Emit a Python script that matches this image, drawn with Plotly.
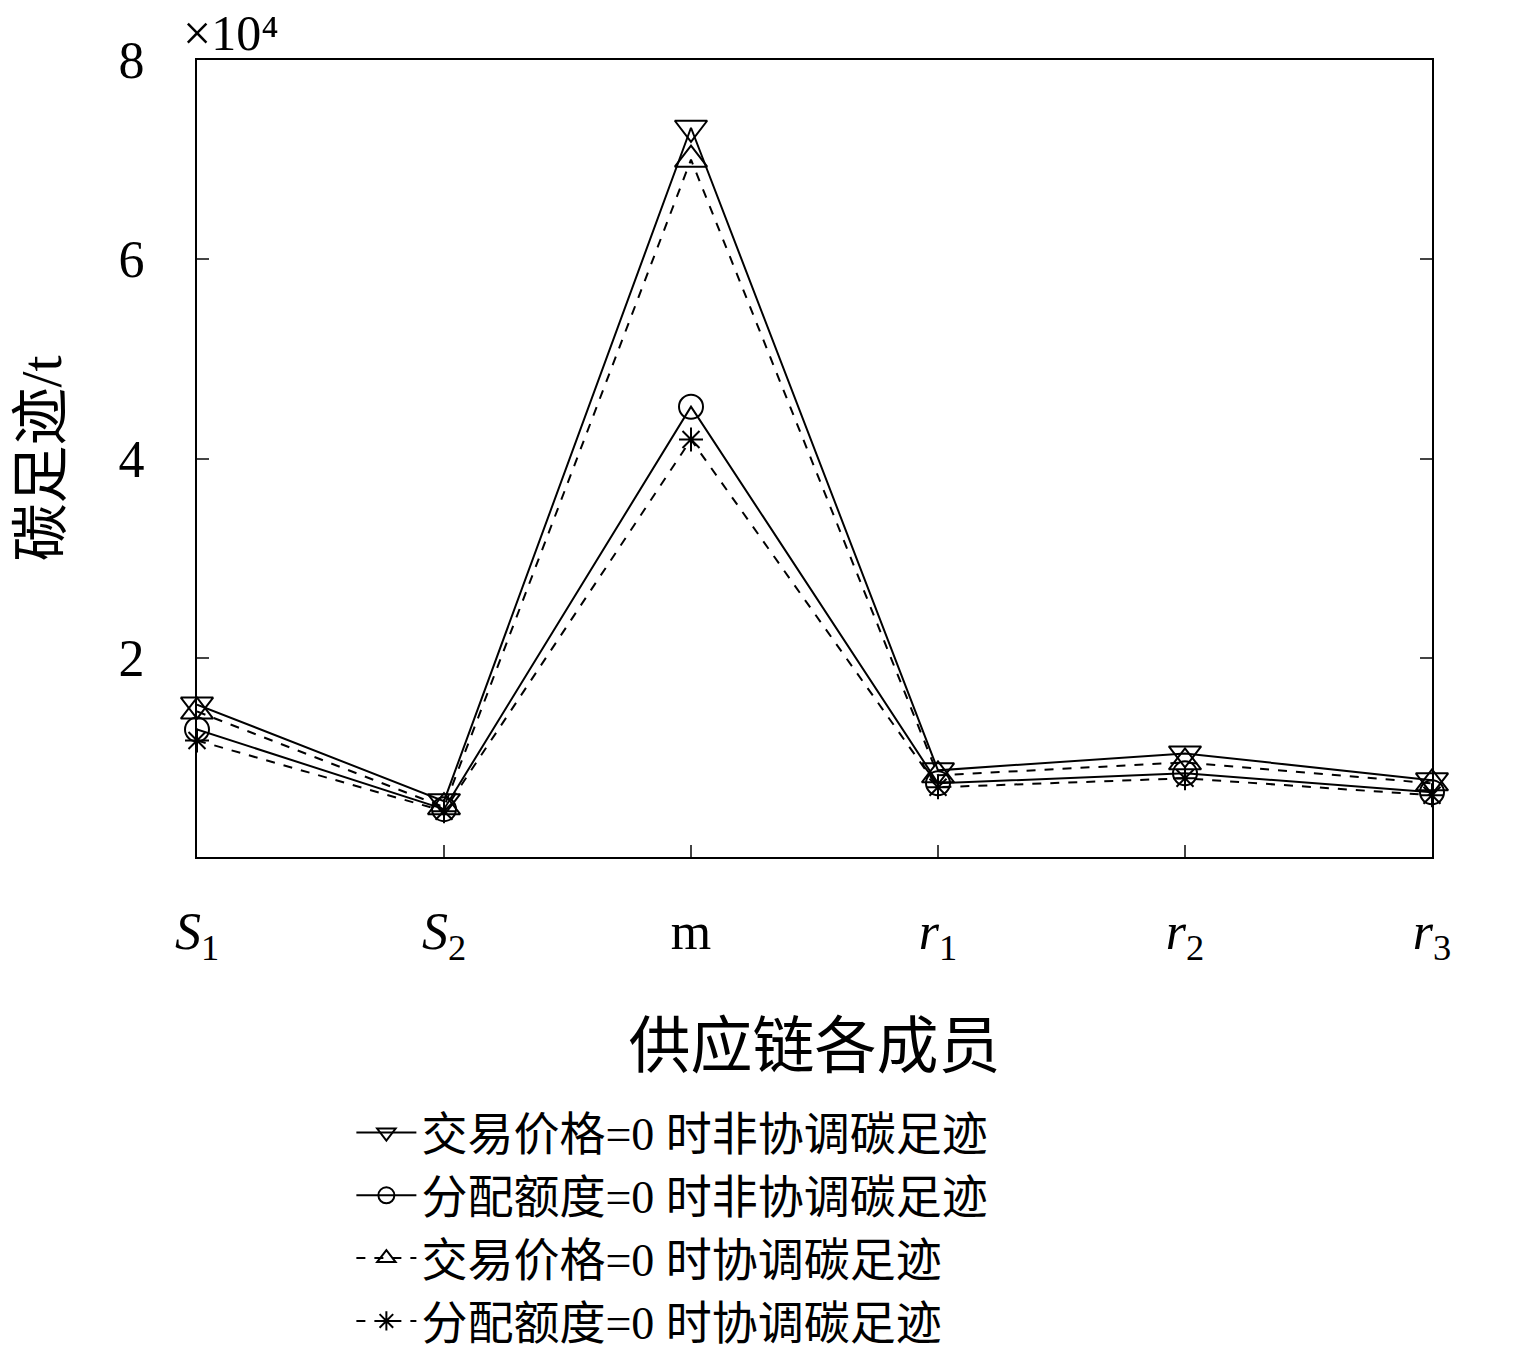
import plotly.graph_objects as go

# supply-chain members (x categories)
members = ["<i>S</i><sub>1</sub>", "<i>S</i><sub>2</sub>", "m",
           "<i>r</i><sub>1</sub>", "<i>r</i><sub>2</sub>", "<i>r</i><sub>3</sub>"]

# carbon footprint, t
price0_uncoord = [15300, 5600, 73200, 8700, 10400, 7700]
quota0_uncoord = [12800, 4800, 45200, 7400, 8400, 6500]
price0_coord = [14600, 5000, 70000, 8200, 9500, 7400]
quota0_coord = [11700, 4600, 41900, 7000, 7900, 6200]

y_tickvals = [20000, 40000, 60000, 80000]
y_ticktext = ["2", "4", "6", "8"]

SERIF = "Liberation Serif, Noto Sans CJK SC"

series = [
    ("交易价格=0 时非协调碳足迹", price0_uncoord, "triangle-down-open", "solid", 28),
    ("分配额度=0 时非协调碳足迹", quota0_uncoord, "circle-open", "solid", 24),
    ("交易价格=0 时协调碳足迹", price0_coord, "triangle-up-open", "dash", 28),
    ("分配额度=0 时协调碳足迹", quota0_coord, "asterisk-open", "dash", 20),
]

fig = go.Figure()
for name, vals, sym, dash, size in series:
    fig.add_trace(go.Scatter(
        x=list(range(len(members))),
        y=vals,
        name=name,
        mode="lines+markers",
        line=dict(color="black", width=2, dash=dash),
        marker=dict(symbol=sym, size=size, color="black",
                    line=dict(color="black", width=2)),
        cliponaxis=False,
    ))

# page body adds an 8px offset, margins compensate for it
fig.update_layout(
    width=1535, height=1358,
    margin=dict(l=189, r=111, t=52, b=509, autoexpand=False),
    plot_bgcolor="white", paper_bgcolor="white",
    font=dict(family=SERIF, size=48, color="black"),
    showlegend=True,
    legend=dict(
        x=0.125, xanchor="left", y=-0.3, yanchor="top",
        font=dict(family=SERIF, size=46),
        bgcolor="rgba(0,0,0,0)",
        tracegroupgap=0,
        itemwidth=60,
    ),
    xaxis=dict(
        range=[0, 5],
        tickvals=list(range(len(members))),
        ticktext=members,
        ticks="inside", ticklen=12, tickwidth=2,
        ticklabelstandoff=28,
        showline=True, linecolor="black", linewidth=2, mirror=True,
        showgrid=False, zeroline=False, automargin=False,
        tickfont=dict(size=52),
        title=dict(text="供应链各成员", font=dict(size=62), standoff=57),
    ),
    yaxis=dict(
        range=[0, 80000],
        tickvals=y_tickvals,
        ticktext=y_ticktext,
        ticks="inside", ticklen=12, tickwidth=2,
        ticklabelstandoff=40,
        showline=True, linecolor="black", linewidth=2, mirror="ticks",
        showgrid=False, zeroline=False, automargin=False,
        tickfont=dict(size=52),
        title=dict(text="碳足迹/t", font=dict(size=58), standoff=38),
    ),
    annotations=[dict(
        text="×10⁴", xref="paper", yref="paper",
        x=-0.013, y=1.071, xanchor="left", yanchor="top",
        showarrow=False, font=dict(family=SERIF, size=50),
    )],
)

fig.write_html("out.html")
